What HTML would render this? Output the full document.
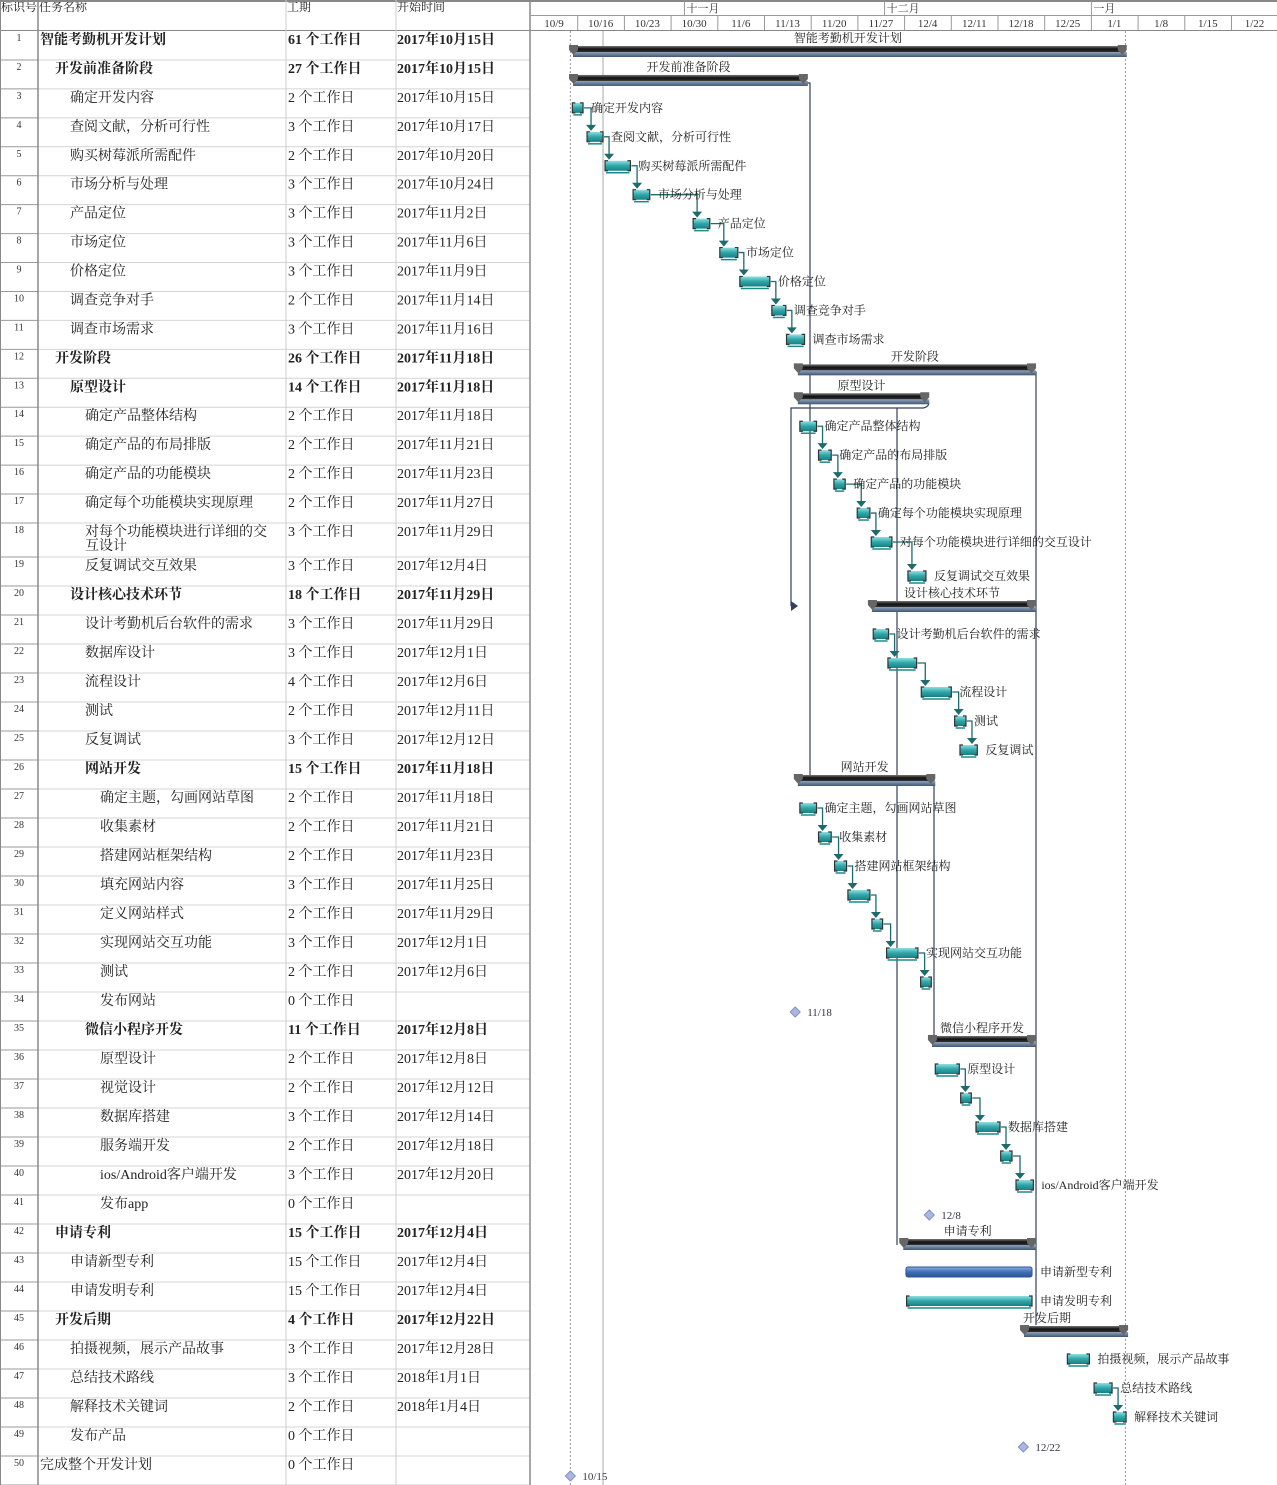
<!DOCTYPE html>
<html><head><meta charset="utf-8"><style>
body{margin:0;background:#fff;}
svg{display:block;font-family:"Liberation Serif","Noto Serif CJK SC",serif;}
</style></head><body>
<svg id="g" width="1277" height="1485" viewBox="0 0 1277 1485" xmlns="http://www.w3.org/2000/svg">
<defs>
<linearGradient id="teal" x1="0" y1="0" x2="0" y2="1"><stop offset="0" stop-color="#8fe0e0"/><stop offset="0.5" stop-color="#2fa5a8"/><stop offset="1" stop-color="#1b7f82"/></linearGradient>
<linearGradient id="blk" x1="0" y1="0" x2="0" y2="1"><stop offset="0" stop-color="#777"/><stop offset="0.5" stop-color="#111"/><stop offset="1" stop-color="#333"/></linearGradient>
<linearGradient id="base" x1="0" y1="0" x2="0" y2="1"><stop offset="0" stop-color="#8ea3bd"/><stop offset="1" stop-color="#3f5673"/></linearGradient>
<linearGradient id="blue" x1="0" y1="0" x2="0" y2="1"><stop offset="0" stop-color="#8eaee0"/><stop offset="0.5" stop-color="#3f6fb5"/><stop offset="1" stop-color="#2b5697"/></linearGradient>
</defs>
<g id="table"></g>
<g id="chart"></g>
</svg>
<script>
const names=["智能考勤机开发计划","开发前准备阶段","确定开发内容","查阅文献，分析可行性","购买树莓派所需配件","市场分析与处理","产品定位","市场定位","价格定位","调查竞争对手","调查市场需求","开发阶段","原型设计","确定产品整体结构","确定产品的布局排版","确定产品的功能模块","确定每个功能模块实现原理","对每个功能模块进行详细的交互设计","反复调试交互效果","设计核心技术环节","设计考勤机后台软件的需求","数据库设计","流程设计","测试","反复调试","网站开发","确定主题，勾画网站草图","收集素材","搭建网站框架结构","填充网站内容","定义网站样式","实现网站交互功能","测试","发布网站","微信小程序开发","原型设计","视觉设计","数据库搭建","服务端开发","ios/Android客户端开发","发布app","申请专利","申请新型专利","申请发明专利","开发后期","拍摄视频，展示产品故事","总结技术路线","解释技术关键词","发布产品","完成整个开发计划"];
const levels=[0,1,2,2,2,2,2,2,2,2,2,1,2,3,3,3,3,3,3,2,3,3,3,3,3,3,4,4,4,4,4,4,4,4,3,4,4,4,4,4,4,1,2,2,1,2,2,2,2,0];
const types=["S","S","T","T","T","T","T","T","T","T","T","S","S","T","T","T","T","T","T","S","T","T","T","T","T","S","T","T","T","T","T","T","T","M","S","T","T","T","T","T","M","S","B","T","S","T","T","T","M","M"];
const durations=["61  个工作日","27  个工作日","2  个工作日","3  个工作日","2  个工作日","3  个工作日","3  个工作日","3  个工作日","3  个工作日","2  个工作日","3  个工作日","26  个工作日","14  个工作日","2  个工作日","2  个工作日","2  个工作日","2  个工作日","3  个工作日","3  个工作日","18  个工作日","3  个工作日","3  个工作日","4  个工作日","2  个工作日","3  个工作日","15  个工作日","2  个工作日","2  个工作日","2  个工作日","3  个工作日","2  个工作日","3  个工作日","2  个工作日","0  个工作日","11  个工作日","2  个工作日","2  个工作日","3  个工作日","2  个工作日","3  个工作日","0  个工作日","15  个工作日","15 个工作日","15 个工作日","4  个工作日","3  个工作日","3  个工作日","2  个工作日","0  个工作日","0  个工作日"];
const startTexts=["2017年10月15日","2017年10月15日","2017年10月15日","2017年10月17日","2017年10月20日","2017年10月24日","2017年11月2日","2017年11月6日","2017年11月9日","2017年11月14日","2017年11月16日","2017年11月18日","2017年11月18日","2017年11月18日","2017年11月21日","2017年11月23日","2017年11月27日","2017年11月29日","2017年12月4日","2017年11月29日","2017年11月29日","2017年12月1日","2017年12月6日","2017年12月11日","2017年12月12日","2017年11月18日","2017年11月18日","2017年11月21日","2017年11月23日","2017年11月25日","2017年11月29日","2017年12月1日","2017年12月6日","","2017年12月8日","2017年12月8日","2017年12月12日","2017年12月14日","2017年12月18日","2017年12月20日","","2017年12月4日","2017年12月4日","2017年12月4日","2017年12月22日","2017年12月28日","2018年1月1日","2018年1月4日","",""];
// bar start / end in days after 10/9
const barStart=[6,6,6.2,8.4,11.1,15.3,24.3,28.3,31.3,36.1,38.3,39.7,39.7,40.3,43.1,45.4,48.9,51,56.5,50.8,51.3,53.5,58.5,63.5,64.3,39.7,40.3,43.1,45.5,47.5,51.1,53.3,58.4,39.6,59.8,60.6,64.4,66.7,70.4,72.7,59.7,55.5,56.2,56.3,73.6,80.4,84.4,87.3,73.8,5.9];
const barEnd=[89,41.2,7.8,10.8,14.9,17.8,26.8,31,35.8,38.2,41,75.4,59.4,42.8,45,47.1,50.8,54.1,59.2,75.4,53.6,57.8,63,65.2,66.9,60.3,42.8,45,47.3,50.8,52.7,58,60,39.6,75.4,64.2,66,70.3,72.1,75.3,59.7,75.4,75.1,75.1,89.2,83.7,87.1,89.2,73.8,5.9];
const barLabels=["智能考勤机开发计划","开发前准备阶段","确定开发内容","查阅文献，分析可行性","购买树莓派所需配件","市场分析与处理","产品定位","市场定位","价格定位","调查竞争对手","调查市场需求","开发阶段","原型设计","确定产品整体结构","确定产品的布局排版","确定产品的功能模块","确定每个功能模块实现原理","对每个功能模块进行详细的交互设计","反复调试交互效果","设计核心技术环节","设计考勤机后台软件的需求","","流程设计","测试","反复调试","网站开发","确定主题，勾画网站草图","收集素材","搭建网站框架结构","","","实现网站交互功能","","11/18","微信小程序开发","原型设计","","数据库搭建","","ios/Android客户端开发","12/8","申请专利","申请新型专利","申请发明专利","开发后期","拍摄视频，展示产品故事","总结技术路线","解释技术关键词","12/22","10/15"];
const links=[[3,4],[4,5],[5,6],[6,7],[7,8],[8,9],[9,10],[10,11],[14,15],[15,16],[16,17],[17,18],[18,19],[21,22],[22,23],[23,24],[24,25],[27,28],[28,29],[29,30],[30,31],[31,32],[32,33],[36,37],[37,38],[38,39],[39,40],[47,48]];
const weekLabels=["10/9","10/16","10/23","10/30","11/6","11/13","11/20","11/27","12/4","12/11","12/18","12/25","1/1","1/8","1/15","1/22"];
const monthLabels=["十一月","十二月","一月"];
const monthStarts=[23,53,84];

const NS="http://www.w3.org/2000/svg";
const X0=531, DAY=46.7/7;
function x(d){return X0+d*DAY;}
function rowTop(i){
  if(i<=18) return 31+(i-1)*28.94;
  return 557+(i-19)*29;
}
function rowH(i){return i<18?28.94:(i==18?34:29);}
function el(tag,attrs,parent,text){const e=document.createElementNS(NS,tag);for(const k in attrs)e.setAttribute(k,attrs[k]);if(text!==undefined)e.textContent=text;parent.appendChild(e);return e;}
const T=document.getElementById('table'), C=document.getElementById('chart');

let hdr=el('rect',{x:0,y:0,width:530,height:30,fill:'#fff'},T);


const hcols=[[1,"标识号"],[39,"任务名称"],[287,"工期"],[397,"开始时间"]];
hcols.forEach(h=>{const t=el('text',{x:h[0],y:11,'font-size':12,fill:'#222'},T,h[1]);

});
el('line',{x1:0,y1:1,x2:1277,y2:1,stroke:'#888','stroke-width':2},T);
el('line',{x1:0,y1:30.5,x2:1277,y2:30.5,stroke:'#888'},T);
for(let i=1;i<=50;i++){
  const t=rowTop(i), idx=i-1;
  const g=el('g',{},T);
  
  
  el('line',{x1:38,y1:t+rowH(i),x2:530,y2:t+rowH(i),stroke:'#d4d4d4'},g);
  el('line',{x1:0,y1:t+rowH(i),x2:38,y2:t+rowH(i),stroke:'#999'},g);
  el('text',{x:19,y:t+10,'font-size':10,'text-anchor':'middle',fill:'#333'},g,String(i));
  const bold=types[idx]==='S'?'bold':'normal';
  const nx=40+levels[idx]*15;
  if(i===18){
    el('text',{x:nx,y:t+13,'font-size':14,fill:'#222'},g,"对每个功能模块进行详细的交");
    el('text',{x:nx,y:t+27,'font-size':14,fill:'#222'},g,"互设计");
  } else el('text',{x:nx,y:t+13,'font-size':14,'font-weight':bold,fill:'#222'},g,names[idx]);
  el('text',{x:288,y:t+13,'font-size':14,'font-weight':bold,fill:'#222','xml:space':'preserve'},g,durations[idx]);
  el('text',{x:397,y:t+13,'font-size':14,'font-weight':bold,fill:'#222'},g,startTexts[idx]);
}
[[38,'#888',1.5],[286,'#ccc',1],[396,'#ccc',1],[530,'#888',1.5]].forEach(c=>el('line',{x1:c[0],y1:0,x2:c[0],y2:1485,stroke:c[1],'stroke-width':c[2]},T));
el('line',{x1:0.5,y1:0,x2:0.5,y2:1485,stroke:'#888'},T);

el('line',{x1:530,y1:15.5,x2:1277,y2:15.5,stroke:'#999'},C);
weekLabels.forEach((w,k)=>{const xx=X0+k*46.7;
  el('line',{x1:xx+46.7,y1:15,x2:xx+46.7,y2:30,stroke:'#999'},C);
  const t=el('text',{x:xx+23,y:27,'font-size':11,'text-anchor':'middle',fill:'#333'},C,w);
  
  
});
monthLabels.forEach((m,k)=>{const xx=x(monthStarts[k]);
  el('line',{x1:xx,y1:1,x2:xx,y2:15,stroke:'#999'},C);
  const t=el('text',{x:xx+2,y:12,'font-size':11,fill:'#333'},C,m);
  
  
});
el('line',{x1:x(5.9),y1:31,x2:x(5.9),y2:1485,stroke:'#999','stroke-dasharray':'2,2'},C);
el('line',{x1:x(89.1),y1:31,x2:x(89.1),y2:1485,stroke:'#999','stroke-dasharray':'2,2'},C);
let cur=el('line',{x1:603,y1:31,x2:603,y2:1485,stroke:'#aaa'},C);



const NV='#34405a';
[[`M${x(41.2)} 83 H810 V780`],[`M${x(59.4)} 400 q4 6 -4 8 H791 V606`],[`M897 408 V1245`],[`M${x(75.4)} 372 H1036 V1325`],[`M${x(60.3)} 780 H934 V1040`]].forEach(p=>el('path',{d:p[0],fill:'none',stroke:NV,'stroke-width':1.2},C));
el('path',{d:'M791 601 L798 606 L791 611Z',fill:NV},C);

function bc(i){return rowTop(i)+19;}
links.forEach(l=>{const a=l[0]-1,b=l[1]-1;const xe=x(barEnd[a])+1, vx=Math.max(xe+5,x(barStart[b])+4), y1=bc(l[0]), y2=bc(l[1])-6;
  const p=el('path',{d:`M${xe} ${y1} H${vx} V${y2-5}`,fill:'none',stroke:'#1e6b6e','stroke-width':1.3},C);
  
  
  el('path',{d:`M${vx-5} ${y2-6} H${vx+5} L${vx} ${y2}Z`,fill:'#1e6b6e'},C);
});

for(let i=1;i<=50;i++){
  const k=i-1, t=rowTop(i), xs=x(barStart[k]), xe=x(barEnd[k]), g=el('g',{},C);
  if(types[k]==='S'){
    
    
    el('rect',{x:xs+2,y:t+21,width:xe-xs,height:5,fill:'url(#base)'},g);
    el('rect',{x:xs,y:t+15,width:xe-xs,height:6,fill:'url(#blk)'},g);
    el('path',{d:`M${xs-2} ${t+14} h9 v5 l-4.5 5 l-4.5 -5Z`,fill:'#666'},g);
    el('path',{d:`M${xe-7} ${t+14} h9 v5 l-4.5 5 l-4.5 -5Z`,fill:'#666'},g);
    const cx=i===45?x(barStart[k])+25:(xs+xe)/2;
    el('text',{x:cx,y:t+11,'font-size':12,'text-anchor':'middle',fill:'#222'},g,barLabels[k]);
  } else if(types[k]==='M'){
    
    
    const c=rowTop(i)+20;
    el('path',{d:`M${xs} ${c-5} l5 5 l-5 5 l-5 -5Z`,fill:'#aab8e0',stroke:'#8090c8'},g);
    el('text',{x:xs+12,y:c+4,'font-size':11,fill:'#334'},g,barLabels[k]);
  } else {
    
    
    const c=bc(i);
    el('rect',{x:xs,y:c-5,width:xe-xs,height:10,rx:2,fill:types[k]==='B'?'url(#blue)':'url(#teal)',stroke:types[k]==='B'?'#2b5697':'none'},g);
    if(types[k]!=='B'){
      el('path',{d:`M${xs+3} ${c-5} H${xs} V${c+5} H${xs+3} M${xe-3} ${c-5} H${xe} V${c+5} H${xe-3}`,fill:'none',stroke:'#333','stroke-width':1.2},g);
      el('line',{x1:xs+1,y1:c+7,x2:xe-1,y2:c+7,stroke:'#1b8a8a','stroke-width':1.5},g);
    }
    if(barLabels[k]) el('text',{x:xe+8,y:c+4,'font-size':12,fill:'#222'},g,barLabels[k]);
  }
}
</script>
</body></html>
